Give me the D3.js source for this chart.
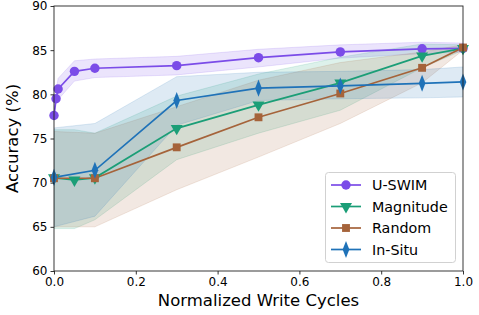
<!DOCTYPE html>
<html><head><meta charset="utf-8">
<script src="https://cdn.jsdelivr.net/npm/d3@7"></script>
<style>body{margin:0;background:#fff}svg{display:block}text{font-family:"DejaVu Sans",sans-serif}</style>
</head><body><svg id="c" width="479" height="315"></svg>
<script>
const xTicks = [0, 0.2, 0.4, 0.6, 0.8, 1.0];
const yTicks = [60, 65, 70, 75, 80, 85, 90];

const uswimX = [0, 0.005, 0.01, 0.05, 0.1, 0.3, 0.5, 0.7, 0.9, 1.0];
const uswimY = [77.6, 79.5, 80.6, 82.6, 82.95, 83.25, 84.15, 84.8, 85.15, 85.2];
const uswimLo = [77.3, 79.0, 79.4, 81.5, 81.9, 82.2, 83.1, 84.1, 84.6, 84.8];
const uswimHi = [78.0, 80.3, 81.8, 83.8, 84.0, 84.3, 85.1, 85.6, 85.9, 85.8];

const magX = [0, 0.05, 0.1, 0.3, 0.5, 0.7, 0.9, 1.0];
const magY = [70.55, 70.3, 70.55, 76.15, 78.8, 81.3, 84.35, 85.2];
const magLo = [64.8, 64.8, 65.8, 72.6, 75.6, 78.2, 83.0, 85.0];
const magHi = [76.0, 76.0, 75.6, 79.8, 82.3, 84.2, 85.7, 85.6];

const randX = [0, 0.1, 0.3, 0.5, 0.7, 0.9, 1.0];
const randY = [70.5, 70.5, 74.0, 77.4, 80.1, 83.0, 85.3];
const randLo = [65.0, 65.0, 69.2, 72.9, 76.7, 81.3, 85.0];
const randHi = [75.8, 75.6, 78.6, 81.6, 83.6, 84.8, 85.6];

const situX = [0, 0.1, 0.3, 0.5, 0.7, 0.9, 1.0];
const situY = [70.6, 71.4, 79.3, 80.7, 80.95, 81.25, 81.4];
const situLo = [65.0, 66.2, 76.5, 79.3, 79.5, 79.6, 79.7];
const situHi = [76.2, 76.7, 82.0, 82.5, 82.6, 82.8, 83.1];

const names = ["U-SWIM", "Magnitude", "Random", "In-Situ"];
const colors = ["#7b4ce8", "#1b9e77", "#a5633a", "#1f72b8"];
const symbols = [d3.symbolCircle, d3.symbolTriangle, d3.symbolSquare, d3.symbolDiamond];

const series = [
  {x: uswimX, y: uswimY, lo: uswimLo, hi: uswimHi},
  {x: magX, y: magY, lo: magLo, hi: magHi},
  {x: randX, y: randY, lo: randLo, hi: randHi},
  {x: situX, y: situY, lo: situLo, hi: situHi}
];

const L = 54, R = 463, T = 6, B = 271;
const svg = d3.select("#c");
const x = d3.scaleLinear().domain([0, 1]).range([L, R]);
const y = d3.scaleLinear().domain([60, 90]).range([B, T]);

svg.append("defs").append("clipPath").attr("id", "clip")
  .append("rect").attr("x", L).attr("y", T).attr("width", R - L).attr("height", B - T);
const g = svg.append("g").attr("clip-path", "url(#clip)");

series.forEach((s, i) => {
  const pts = s.x.map((v, j) => ({x: v, lo: s.lo[j], hi: s.hi[j]}));
  g.append("path").datum(pts)
    .attr("d", d3.area().x(d => x(d.x)).y0(d => y(d.lo)).y1(d => y(d.hi)))
    .attr("fill", colors[i]).attr("fill-opacity", 0.15)
    .attr("stroke", colors[i]).attr("stroke-opacity", 0.15).attr("stroke-width", 1);
});

function markerPath(sym, i) {
  const sizes = [70, 62, 62, 64];
  return d3.symbol().type(sym).size(sizes[i])();
}
function markerTransform(px, py, i) {
  let tr = `translate(${px},${py})`;
  if (i === 1) tr += " rotate(180)";
  if (i === 3) tr += " scale(0.78,1.15)";
  return tr;
}

series.forEach((s, i) => {
  const pts = s.x.map((v, j) => ({x: v, y: s.y[j]}));
  g.append("path").datum(pts)
    .attr("d", d3.line().x(d => x(d.x)).y(d => y(d.y)))
    .attr("fill", "none").attr("stroke", colors[i]).attr("stroke-width", 1.7);
  const gs = svg.append("g");
  pts.forEach(d => {
    gs.append("path").attr("d", markerPath(symbols[i], i))
      .attr("transform", markerTransform(x(d.x), y(d.y), i)).attr("fill", colors[i]);
  });
});

const xAxis = svg.append("g").attr("transform", `translate(0,${B})`)
  .call(d3.axisBottom(x).tickValues(xTicks).tickFormat(d3.format(".1f")).tickSizeOuter(0).tickSize(3.5).tickPadding(3));
const yAxis = svg.append("g").attr("transform", `translate(${L},0)`)
  .call(d3.axisLeft(y).tickValues(yTicks).tickFormat(d3.format("d")).tickSizeOuter(0).tickSize(3.5).tickPadding(3));
[xAxis, yAxis].forEach(a => {
  a.selectAll("text").attr("font-size", 12).attr("fill", "#000").attr("font-family", "DejaVu Sans");
  a.selectAll("line").attr("stroke", "#000").attr("stroke-width", 0.8);
  a.select(".domain").remove();
});
svg.append("rect").attr("x", L).attr("y", T).attr("width", R - L).attr("height", B - T)
  .attr("fill", "none").attr("stroke", "#222").attr("stroke-width", 0.9);

svg.append("text").attr("x", (L + R) / 2).attr("y", 306).attr("text-anchor", "middle")
  .attr("font-size", 16.5).text("Normalized Write Cycles");
svg.append("text").attr("transform", `translate(18,${(T + B) / 2}) rotate(-90)`)
  .attr("text-anchor", "middle").attr("font-size", 16.5).text("Accuracy (%)");

const lg = svg.append("g");
lg.append("rect").attr("x", 325.5).attr("y", 172.5).attr("width", 130).attr("height", 90).attr("rx", 3)
  .attr("fill", "#fff").attr("fill-opacity", 0.8).attr("stroke", "#ccc").attr("stroke-width", 0.9);
names.forEach((n, i) => {
  const yy = 185 + i * 21.5;
  lg.append("line").attr("x1", 331).attr("x2", 361).attr("y1", yy).attr("y2", yy)
    .attr("stroke", colors[i]).attr("stroke-width", 1.7);
  lg.append("path").attr("d", markerPath(symbols[i], i)).attr("transform", markerTransform(346, yy, i)).attr("fill", colors[i]);
  lg.append("text").attr("x", 372).attr("y", yy + 5).attr("font-size", 14.3).text(n);
});
</script></body></html>
